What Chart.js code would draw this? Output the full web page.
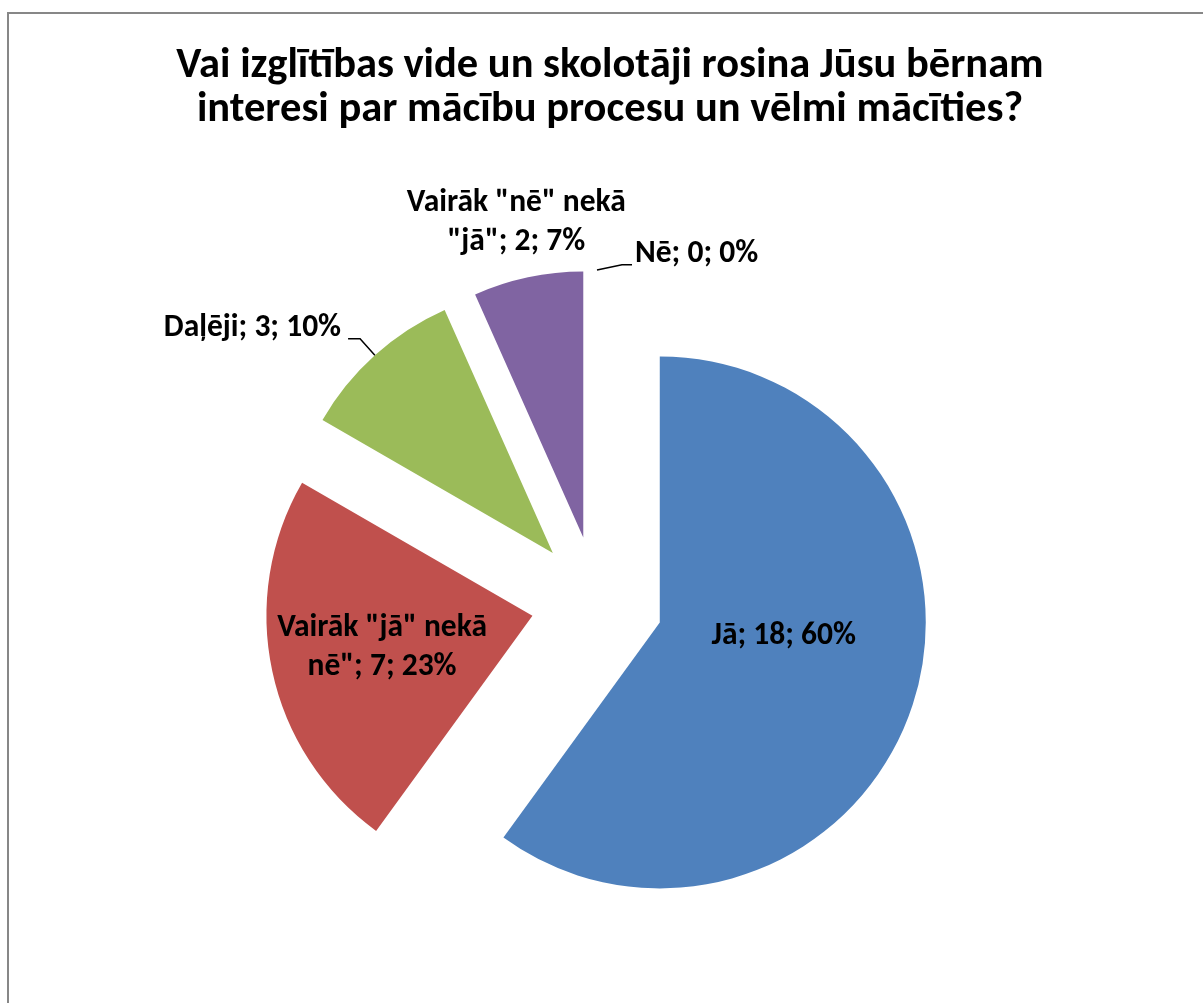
<!DOCTYPE html>
<html><head><meta charset="utf-8">
<script src="https://cdn.jsdelivr.net/npm/chart.js@4.4.1/dist/chart.umd.min.js"></script>
<style>html,body{margin:0;padding:0;background:#fff;overflow:hidden}#wrap{width:1203px;height:1003px;position:relative}</style>
</head><body><div id="wrap"><canvas id="c" width="1203" height="1003"></canvas></div>
<script>
const titleLines = ['Vai izglītības vide un skolotāji rosina Jūsu bērnam', 'interesi par mācību procesu un vēlmi mācīties?'];
const categories = ['Jā', 'Vairāk "jā" nekā nē"', 'Daļēji', 'Vairāk "nē" nekā "jā"', 'Nē'];
const counts = [18, 7, 3, 2, 0];
const colors = ['#4F81BD', '#C0504D', '#9BBB59', '#8064A2', '#4BACC6'];

const FONT = 'Carlito, Calibri, Lato, sans-serif';
const TITLE_SIZE = 42.5, LABEL_SIZE = 31.5;
const RADIUS = 266, EXPLODE = 66;

// label placement styles (not data)
const labelStyle = [
  {mode: 'inside', r: 0.49, dx: 0, dy: -27},
  {mode: 'inside', r: 0.578, dx: 0, dy: 0, wrap: 3},
  {mode: 'leader', er: 1.083, edx: 0, edy: 0, hl: -12, gap: 7},
  {mode: 'outside', r: 1.21, dx: 0, dy: 0, wrap: 3},
  {mode: 'leader', er: 1.02, edx: 25, edy: 0, hl: 10, gap: 3}
];

const total = counts.reduce((a, b) => a + b, 0);
function labelText(i) {
  const pct = Math.round(counts[i] / total * 100);
  const words = (categories[i] + '; ' + counts[i] + '; ' + pct + '%').split(' ');
  const w = labelStyle[i].wrap;
  if (!w) return [words.join(' ')];
  return [words.slice(0, w).join(' '), words.slice(w).join(' ')];
}

const frame = {
  id: 'frame',
  beforeDraw(chart) {
    const ctx = chart.ctx;
    ctx.save();
    ctx.fillStyle = '#fff';
    ctx.fillRect(0, 0, chart.width, chart.height);
    ctx.strokeStyle = '#878787';
    ctx.lineWidth = 2;
    ctx.strokeRect(8, 13, 1400, 1200);
    ctx.fillStyle = '#000';
    ctx.font = 'bold ' + TITLE_SIZE + 'px ' + FONT;
    ctx.textAlign = 'center';
    ctx.textBaseline = 'alphabetic';
    ctx.fillText(titleLines[0], 610, 77);
    ctx.fillText(titleLines[1], 610, 121);
    ctx.restore();
  }
};

const explode = {
  id: 'explode',
  afterDatasetsUpdate(chart) {
    const meta = chart.getDatasetMeta(0);
    const ca = chart.chartArea;
    const cx = (ca.left + ca.right) / 2, cy = (ca.top + ca.bottom) / 2;
    meta.data.forEach(arc => {
      const mid = (arc.startAngle + arc.endAngle) / 2;
      arc.x = cx + Math.cos(mid) * EXPLODE;
      arc.y = cy + Math.sin(mid) * EXPLODE;
    });
  }
};

const labels = {
  id: 'pielabels',
  afterDatasetsDraw(chart) {
    const ctx = chart.ctx;
    const meta = chart.getDatasetMeta(0);
    ctx.save();
    ctx.font = 'bold ' + LABEL_SIZE + 'px ' + FONT;
    ctx.fillStyle = '#000';
    ctx.strokeStyle = '#000';
    ctx.lineWidth = 1.5;
    const LH = 39;
    meta.data.forEach((arc, i) => {
      const st = labelStyle[i];
      const mid = (arc.startAngle + arc.endAngle) / 2;
      const ux = Math.cos(mid), uy = Math.sin(mid);
      const R = arc.outerRadius;
      const lines = labelText(i);
      if (st.mode === 'leader') {
        const px = arc.x + ux * R, py = arc.y + uy * R;
        const ex = arc.x + ux * R * st.er + st.edx, ey = arc.y + uy * R * st.er + st.edy;
        const hx = ex + st.hl;
        ctx.beginPath();
        ctx.moveTo(px, py); ctx.lineTo(ex, ey); ctx.lineTo(hx, ey);
        ctx.stroke();
        ctx.textAlign = st.hl < 0 ? 'right' : 'left';
        ctx.textBaseline = 'alphabetic';
        ctx.fillText(lines[0], hx + (st.hl < 0 ? -st.gap : st.gap), ey - 3);
      } else {
        const ax = arc.x + ux * R * st.r + st.dx, ay = arc.y + uy * R * st.r + st.dy;
        ctx.textAlign = 'center';
        ctx.textBaseline = 'middle';
        const y0 = ay - (lines.length - 1) * LH / 2;
        lines.forEach((t, k) => ctx.fillText(t, ax, y0 + k * LH));
      }
    });
    ctx.restore();
  }
};

new Chart(document.getElementById('c'), {
  type: 'pie',
  data: {
    labels: categories,
    datasets: [{
      data: counts,
      backgroundColor: colors,
      borderWidth: 0,
      radius: RADIUS
    }]
  },
  options: {
    responsive: false,
    animation: false,
    devicePixelRatio: 1,
    layout: {padding: {left: 0, right: 9, top: 220, bottom: 19}},
    plugins: {legend: {display: false}, tooltip: {enabled: false}, title: {display: false}}
  },
  plugins: [frame, explode, labels]
});
</script>
</body></html>
